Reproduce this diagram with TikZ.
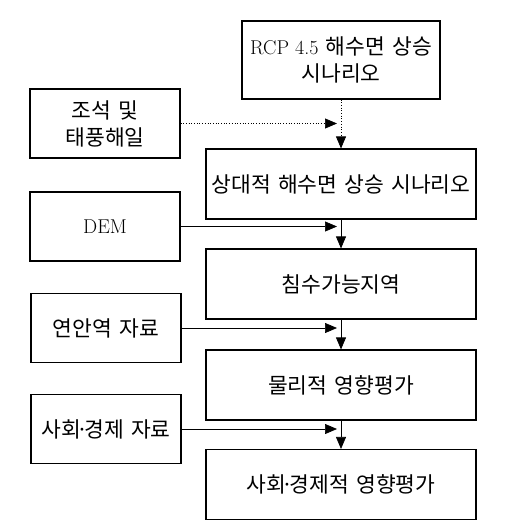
\documentclass[tikz,border=0pt]{standalone}
\usepackage{fontspec}
\newfontfamily\kr[WordSpace=1.5]{Noto Sans CJK KR}
\usetikzlibrary{arrows.meta}

\begin{document}
\begin{tikzpicture}[x=1pt,y=-1pt,
  box/.style={draw,line width=1.1pt,inner sep=0pt,align=center,font=\kr\fontsize{21.5}{27}\selectfont},
  mainBox/.style={box,minimum width=270pt,minimum height=70pt},
  dataBox/.style={box,minimum width=150pt,minimum height=69pt},
  flow/.style={line width=0.7pt,-{Triangle[length=12pt,width=10pt]}}]
\useasboundingbox (0,0) rectangle (513,532);
\node[box,minimum width=198pt,minimum height=78pt] (rcp) at (341,60) {{\rmfamily\fontsize{20}{27}\selectfont RCP 4.5} 해수면 상승\\시나리오};
\node[mainBox] (rel) at (341,184) {상대적 해수면 상승 시나리오};
\node[mainBox] (flood) at (341,284) {침수가능지역};
\node[mainBox] (phys) at (341,385) {물리적 영향평가};
\node[mainBox] (socImp) at (341,484.5) {사회\hspace{-0.2em}·\hspace{-0.2em}경제적 영향평가};
\node[dataBox] (tide) at (105,123.5) {조석 및\\태풍해일};
\node[dataBox] (dem) at (105,226.5) {\rmfamily\fontsize{20}{27}\selectfont DEM};
\node[dataBox] (coast) at (106,328) {연안역 자료};
\node[dataBox] (socData) at (106,429) {사회\hspace{-0.2em}·\hspace{-0.2em}경제 자료};
\draw[flow,dotted] (rcp.south) -- (rel.north);
\draw[flow] (rel.south) -- (flood.north);
\draw[flow] (flood.south) -- (phys.north);
\draw[flow] (phys.south) -- (socImp.north);
\draw[flow,dotted] (tide.east) -- ([xshift=-4pt]tide.east -| rel.north);
\draw[flow] (dem.east) -- ([xshift=-4pt]dem.east -| rel.north);
\draw[flow] (coast.east) -- ([xshift=-4pt]coast.east -| rel.north);
\draw[flow] (socData.east) -- ([xshift=-4pt]socData.east -| rel.north);
\end{tikzpicture}
\end{document}
